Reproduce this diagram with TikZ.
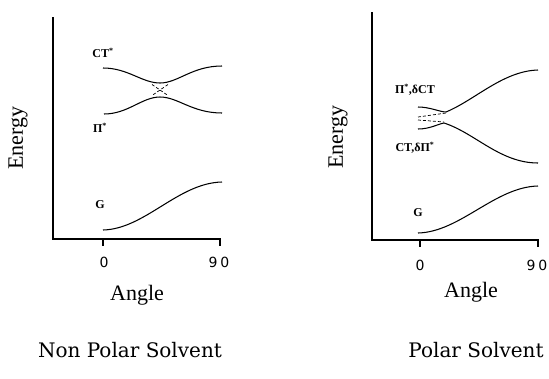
\documentclass[tikz,border=0pt]{standalone}
\usepackage{fontspec}
\setmainfont{Liberation Serif}
\newfontfamily\tickfont{DejaVu Sans}
\newfontfamily\titlefont{DejaVu Serif}
\begin{document}
\begin{tikzpicture}[x=1pt,y=-1pt,
  axis/.style={line width=1.8pt},
  curve/.style={line width=1.05pt},
  diab/.style={line width=0.7pt,dash pattern=on 3pt off 2pt},
  lab/.style={font=\fontsize{12}{12}\selectfont\bfseries,inner sep=0pt},
  tick/.style={font=\tickfont\fontsize{14}{14}\selectfont,inner sep=0pt},
  axlab/.style={font=\fontsize{22}{22}\selectfont,inner sep=0pt},
  title/.style={font=\titlefont\fontsize{20}{20}\selectfont,inner sep=0pt}]
\useasboundingbox (0,0) rectangle (549,378);
% ---------- left panel ----------
\coordinate (lTop) at (53,17);
\coordinate (lO) at (53,239);
\coordinate (lEnd) at (220,239);
\coordinate (lT0) at (103,239);
\coordinate (lT0b) at (103,246);
\coordinate (lEndb) at (220,246);
\draw[axis] (lTop) -- (lO) -- (lEnd) -- (lEndb);
\draw[axis] (lT0) -- (lT0b);
\node[tick] (l0) at (104,262) {0};
\node[tick] (l90) at (219,262) {9\hspace{3pt}0};
\node[axlab] (lAngle) at (137,295) {Angle};
\node[axlab,rotate=90] (lEnergy) at (18,138) {Energy};
\node[title] (lTitle) at (130,350) {Non Polar Solvent};
% curves
\draw[curve] (103,68) .. controls (128,68) and (142,83) .. (160,83)
  .. controls (178,83) and (192,66) .. (222,66);
\draw[curve] (104,114) .. controls (128,114) and (142,97) .. (160,97)
  .. controls (178,97) and (192,113) .. (222,113);
\draw[diab] (152,84.5) -- (168,95.5);
\draw[diab] (168,84.5) -- (152,95.5);
\draw[curve] (103,230) .. controls (145,229) and (178,183) .. (222,182);
\node[lab] (lCT) at (103,53) {CT\textsuperscript{*}};
\node[lab] (lPi) at (100,128) {Π\textsuperscript{*}};
\node[lab] (lG) at (100,205) {G};
% ---------- right panel ----------
\coordinate (rTop) at (372,12);
\coordinate (rO) at (372,240);
\coordinate (rEnd) at (538,240);
\coordinate (rEndb) at (538,247);
\coordinate (rT0) at (420,240);
\coordinate (rT0b) at (420,247);
\draw[axis] (rTop) -- (rO) -- (rEnd) -- (rEndb);
\draw[axis] (rT0) -- (rT0b);
\node[tick] (r0) at (420,265) {0};
\node[tick] (r90) at (537,265) {9\hspace{3pt}0};
\node[axlab] (rAngle) at (471,292) {Angle};
\node[axlab,rotate=90] (rEnergy) at (338,137) {Energy};
\node[title] (rTitle) at (476,350) {Polar Solvent};
% curves
\draw[curve] (418,107) .. controls (430,107) and (440,112) .. (446,112)
  .. controls (475,100) and (503,71) .. (538,70);
\draw[curve] (418,129) .. controls (430,129) and (438,124) .. (444,123)
  .. controls (475,133) and (500,163) .. (538,163);
\draw[diab] (418,117) -- (446,113);
\draw[diab] (418,120) -- (444,122);
\draw[curve] (418,233) .. controls (460,232) and (495,187) .. (538,186);
\node[lab] (rPi) at (415,90) {Π\textsuperscript{*},δCT};
\node[lab] (rCT) at (415,148) {CT,δΠ\textsuperscript{*}};
\node[lab] (rG) at (418,213) {G};
\end{tikzpicture}
\end{document}
